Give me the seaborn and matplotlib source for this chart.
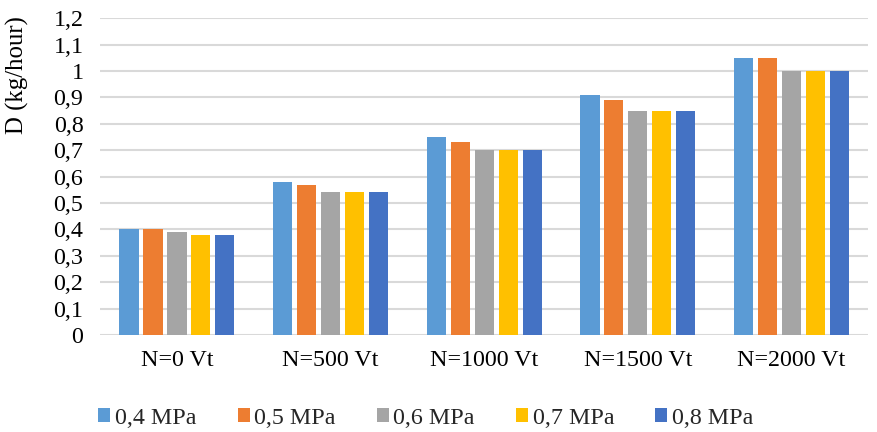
import matplotlib
matplotlib.use("Agg")
import matplotlib.pyplot as plt
from matplotlib.ticker import FuncFormatter, MultipleLocator
import seaborn as sns
import pandas as pd

categories = ["N=0 Vt", "N=500 Vt", "N=1000 Vt", "N=1500 Vt", "N=2000 Vt"]
pressures = ["0,4 MPa", "0,5 MPa", "0,6 MPa", "0,7 MPa", "0,8 MPa"]
d_04 = [0.40, 0.58, 0.75, 0.91, 1.05]
d_05 = [0.40, 0.57, 0.73, 0.89, 1.05]
d_06 = [0.39, 0.54, 0.70, 0.85, 1.00]
d_07 = [0.38, 0.54, 0.70, 0.85, 1.00]
d_08 = [0.38, 0.54, 0.70, 0.85, 1.00]
colors = ["#5B9BD5", "#ED7D31", "#A5A5A5", "#FFC000", "#4472C4"]

series = [d_04, d_05, d_06, d_07, d_08]
rows = []
for p, vals in zip(pressures, series):
    for c, v in zip(categories, vals):
        rows.append({"N": c, "P": p, "D": v})
df = pd.DataFrame(rows)

sns.set_theme(style="white")
plt.rcParams["font.family"] = ["Liberation Serif", "DejaVu Serif"]
FS = 17.3

fig = plt.figure(figsize=(8.78, 4.32), dpi=100)
ax = fig.add_axes([0.114, 0.2245, 0.875, 0.7335])

sns.barplot(data=df, x="N", y="D", hue="P", order=categories, hue_order=pressures,
            palette=colors, width=0.78, linewidth=0,
            saturation=1, ax=ax, legend=True, zorder=3)

# narrow each bar around its centre to leave a small gap between neighbours
for bar in ax.patches:
    w = bar.get_width()
    if w > 0:
        new_w = w * 0.80
        bar.set_x(bar.get_x() + (w - new_w) / 2)
        bar.set_width(new_w)

ax.set_ylim(0, 1.2)
ax.set_xlim(-0.5, 4.5)
ax.yaxis.set_major_locator(MultipleLocator(0.1))
ax.yaxis.set_major_formatter(FuncFormatter(lambda v, _: f"{round(v, 1):g}".replace(".", ",")))
ax.grid(axis="y", color="#d9d9d9", linewidth=1.5, zorder=0)
ax.set_axisbelow(True)
for s in ax.spines.values():
    s.set_visible(False)
ax.tick_params(axis="both", length=0, labelsize=FS, colors="black")
ax.tick_params(axis="y", pad=12)
ax.tick_params(axis="x", pad=11)
ax.set_xlabel("")
ax.set_ylabel("D (kg/hour)", fontsize=17.8, color="black", loc="top")
ax.yaxis.set_label_coords(-0.093, 1.007)

handles, labels = ax.get_legend_handles_labels()
ax.get_legend().remove()
fig.legend(handles, labels, loc="lower center", bbox_to_anchor=(0.485, -0.042), ncol=5,
           frameon=False, fontsize=FS, handlelength=0.5, handleheight=0.5,
           handletextpad=0.2, columnspacing=1.7)

fig.savefig("out.png", dpi=100)
